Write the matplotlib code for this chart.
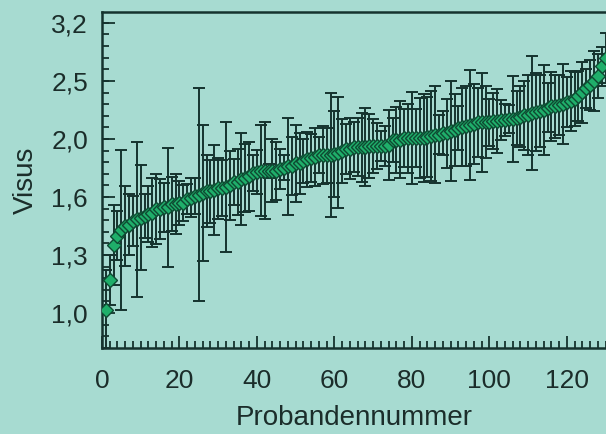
import numpy as np
import matplotlib.pyplot as plt
from matplotlib.ticker import FixedLocator, MultipleLocator, NullFormatter

plt.rcParams['font.family'] = ['Liberation Sans', 'DejaVu Sans']

# mean visus per proband (sorted)
visus = [1.01, 1.14, 1.31, 1.36, 1.39, 1.41, 1.42, 1.44, 1.45, 1.46,
         1.47, 1.48, 1.49, 1.51, 1.51, 1.52, 1.52, 1.54, 1.54, 1.55,
         1.55, 1.57, 1.58, 1.59, 1.60, 1.61, 1.62, 1.62, 1.63, 1.64,
         1.64, 1.65, 1.66, 1.68, 1.68, 1.70, 1.71, 1.72, 1.74, 1.75,
         1.76, 1.76, 1.76, 1.76, 1.76, 1.77, 1.78, 1.79, 1.79, 1.81,
         1.81, 1.83, 1.84, 1.85, 1.86, 1.87, 1.87, 1.87, 1.87, 1.88,
         1.89, 1.90, 1.92, 1.92, 1.93, 1.93, 1.93, 1.93, 1.94, 1.94,
         1.94, 1.94, 1.94, 1.95, 1.99, 1.99, 1.99, 2.00, 2.00, 2.00,
         2.00, 2.00, 2.00, 2.01, 2.02, 2.03, 2.03, 2.04, 2.04, 2.06,
         2.07, 2.08, 2.09, 2.10, 2.11, 2.12, 2.13, 2.13, 2.13, 2.13,
         2.14, 2.14, 2.15, 2.15, 2.16, 2.16, 2.17, 2.18, 2.19, 2.19,
         2.21, 2.22, 2.23, 2.24, 2.26, 2.27, 2.27, 2.28, 2.29, 2.31,
         2.32, 2.34, 2.37, 2.40, 2.44, 2.47, 2.51, 2.56, 2.66, 2.75]

# standard deviation in log units (symmetric on the log axis)
log_sd = [0.069, 0.043, 0.069, 0.043, 0.138, 0.069, 0.052, 0.043, 0.134, 0.090,
          0.038, 0.048, 0.060, 0.060, 0.052, 0.043, 0.103, 0.047, 0.052, 0.038,
          0.031, 0.026, 0.034, 0.031, 0.183, 0.117, 0.062, 0.055, 0.078, 0.052,
          0.048, 0.112, 0.059, 0.040, 0.057, 0.079, 0.059, 0.060, 0.031, 0.038,
          0.079, 0.083, 0.012, 0.055, 0.050, 0.034, 0.022, 0.084, 0.050, 0.067,
          0.052, 0.038, 0.047, 0.041, 0.050, 0.031, 0.050, 0.047, 0.107, 0.074,
          0.095, 0.055, 0.043, 0.052, 0.043, 0.050, 0.059, 0.067, 0.055, 0.047,
          0.040, 0.026, 0.034, 0.060, 0.038, 0.057, 0.066, 0.050, 0.060, 0.079,
          0.050, 0.069, 0.076, 0.069, 0.078, 0.083, 0.034, 0.038, 0.060, 0.086,
          0.062, 0.038, 0.067, 0.069, 0.095, 0.069, 0.060, 0.086, 0.062, 0.040,
          0.048, 0.055, 0.034, 0.028, 0.024, 0.074, 0.047, 0.052, 0.059, 0.069,
          0.098, 0.067, 0.062, 0.078, 0.043, 0.059, 0.055, 0.052, 0.069, 0.043,
          0.052, 0.047, 0.043, 0.052, 0.034, 0.043, 0.052, 0.038, 0.034, 0.043]

ytick_values = [1.0, 1.259, 1.585, 1.995, 2.512, 3.162]
ytick_labels = ['1,0', '1,3', '1,6', '2,0', '2,5', '3,2']
xtick_values = [0, 20, 40, 60, 80, 100, 120]

bg = '#a7dbd1'
dark = '#15332e'
textcol = '#1b2d2a'

v = np.array(visus)
sd = np.array(log_sd)
proband = np.arange(1, len(v) + 1)
lower = v - v * 10 ** (-sd)
upper = v * 10 ** sd - v

fig = plt.figure(figsize=(6.06, 4.34), dpi=100, facecolor=bg)
ax = fig.add_axes([0.1683, 0.198, 0.8317, 0.774], facecolor=bg)

ax.errorbar(proband, v, yerr=[lower, upper], fmt='none', ecolor=dark,
            elinewidth=1.4, capsize=4.5, capthick=1.4, zorder=2)
ax.plot(proband, v, 'D', ms=7, mfc='#1fae6a', mec='#0e4a32', mew=1.0, zorder=3)

ax.set_yscale('log')
ax.set_ylim(0.87, 3.30)
ax.set_xlim(0, 130.1)
ax.yaxis.set_major_locator(FixedLocator(ytick_values))
ax.set_yticklabels(ytick_labels)
ax.yaxis.set_minor_locator(FixedLocator(10 ** (np.arange(-6, 52, 2) / 100)))
ax.yaxis.set_minor_formatter(NullFormatter())
ax.xaxis.set_major_locator(FixedLocator(xtick_values))
ax.xaxis.set_minor_locator(MultipleLocator(2))

for side in ['left', 'bottom', 'top']:
    ax.spines[side].set_linewidth(1.8)
    ax.spines[side].set_color(dark)
ax.spines['right'].set_visible(False)

ax.tick_params(which='both', direction='in', color=dark, width=1.3,
               labelsize=19, labelcolor=textcol)
ax.tick_params(which='major', length=9)
ax.tick_params(which='minor', length=5)
ax.tick_params(axis='y', which='both', pad=10)
ax.tick_params(axis='x', which='both', pad=15)
ax.tick_params(axis='x', which='both', top=False)

ax.set_xlabel('Probandennummer', fontsize=20, color=textcol, labelpad=9)
ax.set_ylabel('Visus', fontsize=20, color=textcol, labelpad=9)

fig.savefig('out.png', dpi=100, facecolor=bg)
